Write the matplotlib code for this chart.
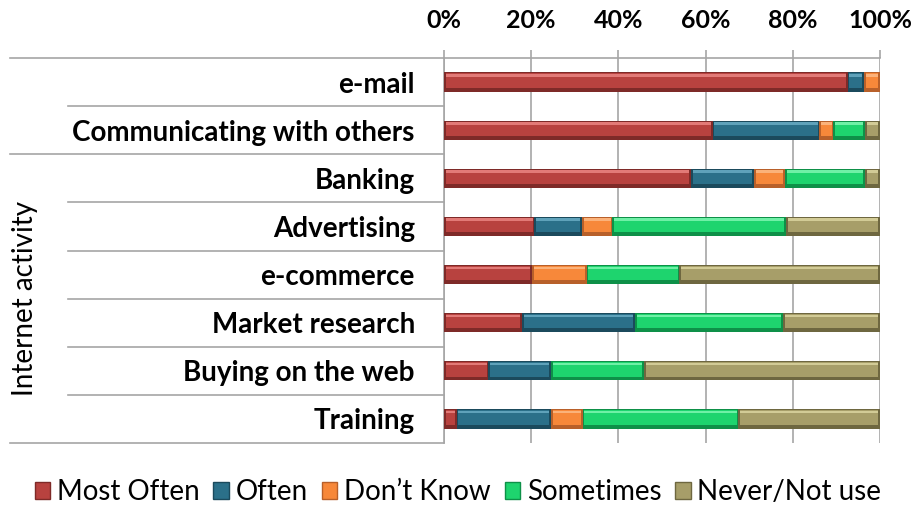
import numpy as np
import matplotlib
matplotlib.use("Agg")
import matplotlib.pyplot as plt
from matplotlib.lines import Line2D
from matplotlib.patches import Patch
from matplotlib.transforms import blended_transform_factory

plt.rcParams['font.family'] = ['Lato', 'DejaVu Sans']

# categories, top to bottom
activities = ["e-mail", "Communicating with others", "Banking", "Advertising",
              "e-commerce", "Market research", "Buying on the web", "Training"]
series_names = ["Most Often", "Often", "Don\u2019t Know", "Sometimes", "Never/Not use"]

most_often = [92.6, 61.6, 56.7, 20.7, 20.2, 17.9, 10.2, 2.9]
often      = [3.7, 24.5, 14.4, 10.9, 0.0, 25.9, 14.3, 21.6]
dont_know  = [3.7, 3.2, 7.1, 7.0, 12.5, 0.0, 0.0, 7.3]
sometimes  = [0.0, 7.3, 18.4, 39.8, 21.3, 33.9, 21.4, 35.7]
never      = [0.0, 3.4, 3.4, 21.6, 46.0, 22.3, 54.1, 32.5]

xticks = [0, 20, 40, 60, 80, 100]

colors = ["#B8423F", "#2B7089", "#F7883A", "#1ED46E", "#A79E69"]
dark   = ["#7E2A28", "#1B4A5C", "#B8602A", "#0E9048", "#6E6740"]
light  = ["#E27A77", "#5FA2BA", "#FBB27A", "#6FF0A6", "#D2CB96"]

fig = plt.figure(figsize=(9.16, 5.09), dpi=100)
ax = fig.add_axes([444/916, 1-443/509, 436/916, 385/509])

data = [most_often, often, dont_know, sometimes, never]
y = np.arange(len(activities))
left = np.zeros(len(activities))
h = 0.40
for vals, c, d, l in zip(data, colors, dark, light):
    vals = np.array(vals)
    m = vals > 0
    ax.barh(y[m], vals[m], left=left[m], height=h, color=d, edgecolor='none', zorder=3)
    ax.barh(y[m] - 0.03, vals[m] - 0.8, left=left[m] + 0.4, height=h - 0.1, color=c,
            edgecolor='none', zorder=4)
    ax.barh(y[m] - h/2 + 0.06, vals[m] - 0.8, left=left[m] + 0.4, height=0.05,
            color=l, edgecolor='none', zorder=5)
    left += vals

gray = '#A6A6A6'
ax.set_xlim(0, 100)
ax.set_ylim(len(activities) - 0.5, -0.5)
ax.set_xticks(xticks)
ax.set_xticklabels([f"{t}%" for t in xticks], fontsize=18, fontweight='bold')
ax.xaxis.tick_top()
ax.tick_params(axis='x', length=6, width=1.2, color=gray, pad=13)
ax.set_yticks(y)
ax.set_yticklabels(activities, fontsize=20, fontweight='bold')
ax.tick_params(axis='y', length=0, pad=21)
ax.grid(axis='x', color=gray, linewidth=1.2, zorder=0)
for s in ['right', 'bottom']:
    ax.spines[s].set_visible(False)
for s in ['left', 'top']:
    ax.spines[s].set_color(gray)
    ax.spines[s].set_linewidth(1.2)

# category separator lines
tr = blended_transform_factory(fig.transFigure, ax.transData)
for b in np.arange(-0.5, len(activities)):
    x0 = 10/916 if b in (-0.5, 1.5, len(activities) - 0.5) else 68/916
    fig.add_artist(Line2D([x0, 444/916], [b, b], transform=tr, color=gray,
                          linewidth=1.2))

fig.text(25/916, 1-298/509, "Internet activity", rotation=90, fontsize=20,
         ha='center', va='center')

handles = [Patch(facecolor=c, edgecolor=d) for c, d in zip(colors, dark)]
fig.legend(handles, series_names, loc='center', bbox_to_anchor=(0.5, 1-492/509),
           ncol=5, frameon=False, fontsize=20, handlelength=0.55, handleheight=0.55,
           handletextpad=0.25, columnspacing=0.5)

fig.savefig("out.png", dpi=100)
